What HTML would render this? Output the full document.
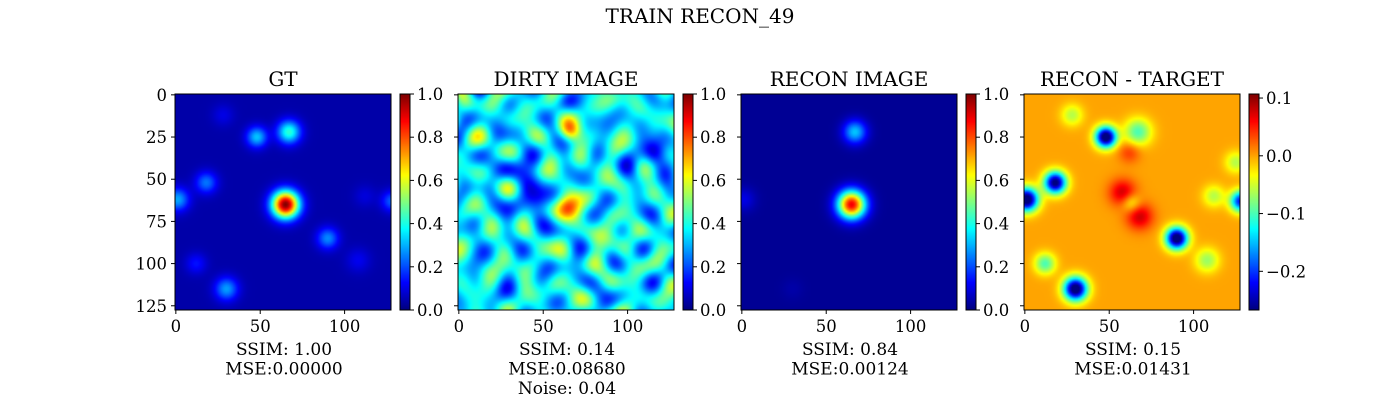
<!DOCTYPE html>
<html><head><meta charset="utf-8">
<style>
body{margin:0;background:#fff;}
#root{position:relative;width:1400px;height:400px;overflow:hidden;font-family:"DejaVu Serif","Liberation Serif",serif;}
canvas{position:absolute;image-rendering:auto;}
svg{position:absolute;left:0;top:0;}
text{font-family:"DejaVu Serif","Liberation Serif",serif;fill:#000;}
</style></head>
<body>
<div id="root">
<svg id="svg" width="1400" height="400"></svg>
</div>
<script>
// ---------- data ----------
const panelTitles = ["GT","DIRTY IMAGE","RECON IMAGE","RECON - TARGET"];
const panelX = [175,458,741,1024];
const axisTicks = [0,25,50,75,100,125];
const xTicks = [0,50,100];
const cbTicksMain = [0.0,0.2,0.4,0.6,0.8,1.0];
const cbTicksDiff = [0.1,0.0,-0.1,-0.2];
const cbRangeMain = [0,1];
const cbRangeDiff = [-0.267,0.107];
const captions = [["SSIM: 1.00","MSE:0.00000"],["SSIM: 0.14","MSE:0.08680","Noise: 0.04"],["SSIM: 0.84","MSE:0.00124"],["SSIM: 0.15","MSE:0.01431"]];
// blobs: x, y, amplitude, sigma
const gtBase = 0.04;
const gtBlobs = [[65,65,0.96,5.6],[67,22,0.38,4.8],[48,25,0.28,4.3],[18,52,0.2,4.5],[1,62,0.25,4.8],[90,85,0.22,4.5],[30,115,0.24,4.8],[12,100,0.1,4.3],[128,63,0.18,4.3],[28,12,0.06,4.5],[108,98,0.07,5],[112,60,0.05,4.5]];
const reconBase = 0.02;
const reconBlobs = [[65,65,0.87,5.8],[67,22,0.3,4.8],[1,62,0.08,4.8],[30,115,0.02,4.5]];
const dirtyBase = 0.36;
const dirtyBlobs = [[64,66,0.45,5.5],[66,22,0.3,4.5],[47,63,-0.35,5.5],[35,45,-0.15,8],[115,35,-0.3,5.5],[90,85,0.15,5.5]];
const dirtyWaveAmp = [0.09,0.08,0.07,0.07,0.06,0.06,0.05];
const dirtyWaveKx = [0.22,0.15,0.31,0.09,0.27,0.19,0.36];
const dirtyWaveKy = [0.13,0.29,0.06,0.25,0.2,0.33,0.17];
const dirtyWavePh = [0.3,1.7,2.9,4.1,5.0,0.9,2.2];
const diffBase = 0.0;
const diffBlobs = [[48,25,-0.3,4.3],[18,52,-0.28,4.5],[1,62,-0.3,4.8],[90,85,-0.3,4.5],[30,115,-0.3,4.8],[12,100,-0.1,4.3],[128,63,-0.22,4.3],[67,22,-0.1,5.5],[28,12,-0.06,4.5],[108,98,-0.07,5],[112,60,-0.06,4.5],[58,58,0.08,5.5],[68,72,0.08,5.5],[63,64,-0.06,4],[62,34,0.04,4.5],[125,40,-0.06,4.5]];
// ---------- helpers ----------
const S = 216, N = 128, TOP = 94;
const svg = document.getElementById('svg');
const NS = 'http://www.w3.org/2000/svg';
function jet(v){
  v = Math.max(0,Math.min(1,v));
  const r = Math.max(0,Math.min(1,1.5-Math.abs(4*v-3)));
  const g = Math.max(0,Math.min(1,1.5-Math.abs(4*v-2)));
  const b = Math.max(0,Math.min(1,1.5-Math.abs(4*v-1)));
  return [r*255,g*255,b*255];
}
function field(base, blobs, waves){
  return (x,y)=>{
    let v = base;
    for(const [bx,by,a,s] of blobs){ const d=(x-bx)**2+(y-by)**2; v += a*Math.exp(-d/(2*s*s)); }
    if(waves){ for(let i=0;i<dirtyWaveAmp.length;i++){ v += dirtyWaveAmp[i]*Math.cos(dirtyWaveKx[i]*x+dirtyWavePh[i])*Math.cos(dirtyWaveKy[i]*y+dirtyWavePh[i]*1.3); } }
    return v;
  };
}
function drawImage(idx, f, range, name){
  const c = document.createElement('canvas');
  c.width = N; c.height = N;
  c.style.left = panelX[idx]+'px'; c.style.top = TOP+'px';
  c.style.width = S+'px'; c.style.height = S+'px';
  
  
  const ctx = c.getContext('2d'); const im = ctx.createImageData(N,N);
  for(let y=0;y<N;y++) for(let x=0;x<N;x++){
    const t = (f(x,y)-range[0])/(range[1]-range[0]); const [r,g,b]=jet(t); const k=(y*N+x)*4;
    im.data[k]=r; im.data[k+1]=g; im.data[k+2]=b; im.data[k+3]=255;
  }
  ctx.putImageData(im,0,0);
  document.getElementById('root').insertBefore(c, svg);
}
function el(tag, attrs, txt){
  const e = document.createElementNS(NS, tag);
  for(const k in attrs) e.setAttribute(k, attrs[k]);
  if(txt!==undefined) e.textContent = txt;
  svg.appendChild(e); return e;
}
const sc = v => (v+0.5)*S/N;
function colorbar(idx, range, ticks, fmt){
  const cx = panelX[idx]+S+9, w = 10;
  const c = document.createElement('canvas'); c.width=1; c.height=256;
  c.style.left=cx+'px'; c.style.top=TOP+'px'; c.style.width=w+'px'; c.style.height=S+'px';
  
  
  const ctx=c.getContext('2d'); const im=ctx.createImageData(1,256);
  for(let i=0;i<256;i++){ const [r,g,b]=jet(1-i/255); im.data[i*4]=r; im.data[i*4+1]=g; im.data[i*4+2]=b; im.data[i*4+3]=255; }
  ctx.putImageData(im,0,0); document.getElementById('root').insertBefore(c, svg);
  const fr = el('rect',{x:cx,y:TOP,width:w,height:S,fill:'none',stroke:'#000','stroke-width':1});
  
  
  for(const t of ticks){
    const y = TOP + S*(range[1]-t)/(range[1]-range[0]);
    el('line',{x1:cx+w,x2:cx+w+4,y1:y,y2:y,stroke:'#000','stroke-width':1});
    const tx = el('text',{x:cx+w+7,y:y+6,'font-size':'16.5px'}, fmt(t));
    
    
  }
}
// ---------- title ----------
const mt = el('text',{x:700,y:23,'font-size':'20px','text-anchor':'middle'},'TRAIN RECON_49');


// ---------- images ----------
drawImage(0, field(gtBase,gtBlobs,false), cbRangeMain, 'gt-image');
drawImage(1, field(dirtyBase,dirtyBlobs,true), cbRangeMain, 'dirty-image');
drawImage(2, field(reconBase,reconBlobs,false), cbRangeMain, 'recon-image');
drawImage(3, field(diffBase,diffBlobs,false), cbRangeDiff, 'diff-image');
// ---------- axes ----------
for(let i=0;i<4;i++){
  const x0 = panelX[i];
  const fr = el('rect',{x:x0,y:TOP,width:S,height:S,fill:'none',stroke:'#000','stroke-width':1});
  
  
  const t = el('text',{x:x0+S/2,y:TOP-8,'font-size':'20px','text-anchor':'middle'},panelTitles[i]);
  
  
  for(const v of xTicks){
    const x = x0+sc(v);
    el('line',{x1:x,x2:x,y1:TOP+S,y2:TOP+S+4,stroke:'#000'});
    const l = el('text',{x:x,y:TOP+S+22,'font-size':'16.5px','text-anchor':'middle'},String(v));
    
    
  }
  for(const v of axisTicks){
    const y = TOP+sc(v);
    el('line',{x1:x0-4,x2:x0,y1:y,y2:y,stroke:'#000'});
    if(i===0){
      const l = el('text',{x:x0-8,y:y+6,'font-size':'16.5px','text-anchor':'end'},String(v));
      
      
    }
  }
  captions[i].forEach((s,j)=>{
    const c = el('text',{x:x0+S/2+1,y:355+j*19.5,'font-size':'17px','text-anchor':'middle'},s);
    
    
  });
}
colorbar(0, cbRangeMain, cbTicksMain, v=>v.toFixed(1));
colorbar(1, cbRangeMain, cbTicksMain, v=>v.toFixed(1));
colorbar(2, cbRangeMain, cbTicksMain, v=>v.toFixed(1));
colorbar(3, cbRangeDiff, cbTicksDiff, v=>(v<0?'\u2212':'')+Math.abs(v).toFixed(1));
</script>
</body></html>
